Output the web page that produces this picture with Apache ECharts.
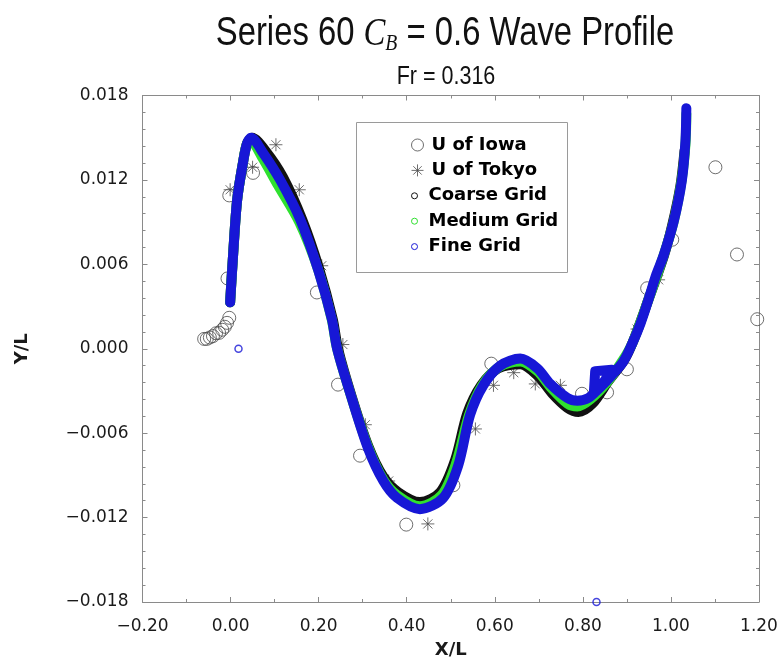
<!DOCTYPE html>
<html><head><meta charset="utf-8">
<script src="https://cdn.jsdelivr.net/npm/echarts@6/dist/echarts.min.js"></script>
<style>html,body{margin:0;padding:0;background:#fff}#c{width:782px;height:664px}</style>
</head><body><div id="c"></div>
<script>
// ---- tick labels ----
const xTickLabels = ['\u22120.20','0.00','0.20','0.40','0.60','0.80','1.00','1.20'];
const yTickLabels = ['\u22120.018','\u22120.012','\u22120.006','0.000','0.006','0.012','0.018'];

// ---- U of Iowa (experiment) ----
const iowaX = [-0.060,-0.054,-0.047,-0.040,-0.033,-0.026,-0.019,-0.013,-0.008,-0.003,
               -0.003,-0.007,0.051,0.196,0.244,0.294,0.399,0.506,0.592,0.798,0.855,0.900,
               0.946,1.003,1.101,1.150,1.196];
const iowaY = [0.0007,0.0007,0.0008,0.0009,0.0011,0.00113,0.00135,0.00156,0.00184,0.0022,
               0.0109,0.0050,0.0125,0.0040,-0.00255,-0.0076,-0.0125,-0.0097,-0.00106,-0.0032,-0.0031,-0.00146,
               0.0043,0.00775,0.0129,0.0067,0.0021];

// ---- U of Tokyo (experiment) ----
const tokyoX = [-0.001,0.050,0.103,0.156,0.207,0.255,0.306,0.359,0.448,0.556,0.597,0.643,0.692,0.749,0.923,0.972];
const tokyoY = [0.0113,0.0129,0.0145,0.0113,0.0059,0.0003,-0.0054,-0.0094,-0.01245,-0.0057,-0.0026,-0.0017,-0.0025,-0.0026,0.0014,0.0049];

// ---- Coarse grid ----
const coarseX = [-0.001,0.006,0.015,0.028,0.0375,0.049,0.081,0.119,0.1625,0.201,0.232,0.244,0.276,0.3125,0.347,0.381,
                 0.430,0.476,0.510,0.5375,0.569,0.608,0.658,0.697,0.731,0.765,0.790,0.822,0.858,0.892,0.9125,0.949,
                 0.983,1.003,1.0216,1.031];
const coarseY = [0.0033,0.0068,0.0106,0.0132,0.0146,0.0150,0.0140,0.0122,0.0092,0.0057,0.0021,0.0000,-0.0035,-0.0069,-0.0091,-0.0102,
                 -0.0109,-0.0102,-0.0079,-0.0046,-0.0026,-0.0014,-0.0011,-0.0019,-0.0032,-0.0042,-0.0045,-0.0039,-0.0023,-0.0009,0.0004,0.0035,
                 0.0065,0.0088,0.0116,0.0141];

// ---- Medium grid ----
const mediumX = [-0.001,0.006,0.015,0.028,0.0375,0.0466,0.0716,0.108,0.156,0.199,0.2295,0.242,0.275,0.3125,0.347,0.378,
                 0.430,0.4795,0.5125,0.5415,0.5715,0.610,0.658,0.697,0.7285,0.765,0.7875,0.817,0.8545,0.891,0.9125,0.949,
                 0.983,1.006,1.024,1.033,1.035];
const mediumY = [0.0033,0.0068,0.0106,0.0132,0.0146,0.0147,0.0136,0.0116,0.0090,0.0056,0.0021,0.0000,-0.0035,-0.0070,-0.0093,-0.0104,
                 -0.0112,-0.0104,-0.0081,-0.0047,-0.0026,-0.0013,-0.0009,-0.0016,-0.0028,-0.0039,-0.0041,-0.0036,-0.0024,-0.0008,0.0004,0.0035,
                 0.0066,0.0090,0.0119,0.0145,0.0167];

// ---- Fine grid ----
const fineX = [-0.001,0.006,0.015,0.028,0.0375,0.0466,0.074,0.1125,0.158,0.199,0.230,0.242,0.275,0.3125,0.347,0.378,
               0.430,0.483,0.517,0.544,0.574,0.6125,0.658,0.697,0.726,0.765,0.7875,0.8125,0.8375,
               0.8625,0.892,0.9125,0.931,0.949,0.967,0.983,1.006,1.025,1.033,1.035];
const fineY = [0.0033,0.0068,0.0106,0.0132,0.0146,0.0150,0.0139,0.0120,0.0092,0.0056,0.0021,0.0000,-0.0035,-0.0071,-0.0094,-0.0106,
               -0.0114,-0.0106,-0.0083,-0.0047,-0.0026,-0.0012,-0.0007,-0.0014,-0.0025,-0.0035,-0.0037,-0.0035,-0.0028,
               -0.0020,-0.0009,0.0004,0.0018,0.0035,0.0053,0.0066,0.0090,0.0120,0.0148,0.0171];
// step ("flag") in the fine-grid profile near X/L = 0.83
const fineFlagX = [0.825,0.828,0.866,0.840];
const fineFlagY = [-0.0031,-0.0016,-0.0015,-0.0027];
const fineExtraX = [0.018,0.831];
const fineExtraY = [0.0000,-0.0180];

const zip = (xs, ys) => xs.map((x, i) => [x, ys[i]]);
const XMIN = -0.2, XINT = 0.2, YMIN = -0.018, YINT = 0.006;
const xFmt = v => xTickLabels[Math.round((v - XMIN) / XINT)] || '';
const yFmt = v => yTickLabels[Math.round((v - YMIN) / YINT)] || '';

const AX = '#8a8a8a';
const BLUE = '#1717d6', GREEN = '#2fe02f', BLACK = '#111111', GRAY = '#4a4a4a';
const ASTER = 'path://M6,0L6,12M0,6L12,6M1.8,1.8L10.2,10.2M1.8,10.2L10.2,1.8';
const tickFont = {fontFamily: 'DejaVu Sans', fontSize: 17, color: '#1a1a1a'};
const nameFont = {fontFamily: 'DejaVu Sans', fontWeight: 'bold', fontSize: 18, color: '#1a1a1a'};
const sans = "'Liberation Sans', Arial, sans-serif";

function xAx(pos, labels) {
  return {
    type: 'value', position: pos, min: XMIN, max: 1.2, interval: XINT,
    axisLine: {show: true, onZero: false, lineStyle: {color: AX, width: 1}},
    axisTick: {show: true, inside: true, length: 5, lineStyle: {color: AX}},
    minorTick: {show: true, splitNumber: 2, length: 3, lineStyle: {color: AX}},
    splitLine: {show: false}, minorSplitLine: {show: false},
    axisLabel: Object.assign({show: labels, margin: 16, formatter: xFmt}, tickFont),
    name: labels ? 'X/L' : '', nameLocation: 'middle', nameGap: 39, nameTextStyle: nameFont
  };
}
function yAx(pos, labels) {
  return {
    type: 'value', position: pos, min: YMIN, max: 0.018, interval: YINT,
    axisLine: {show: true, onZero: false, lineStyle: {color: AX, width: 1}},
    axisTick: {show: true, inside: true, length: 5, lineStyle: {color: AX}},
    minorTick: {show: true, splitNumber: 5, length: 3, lineStyle: {color: AX}},
    splitLine: {show: false}, minorSplitLine: {show: false},
    axisLabel: Object.assign({show: labels, margin: 14, formatter: yFmt}, tickFont),
    name: labels ? 'Y/L' : '', nameLocation: 'middle', nameRotate: 90, nameGap: 111, nameTextStyle: nameFont
  };
}
function band(name, xs, ys, color, smooth) {
  return {
    name: name, type: 'line', data: zip(xs, ys), showSymbol: false, symbol: 'none',
    smooth: smooth, animation: false, silent: true,
    lineStyle: {color: color, width: 10, cap: 'round', join: 'round'},
    itemStyle: {color: color}
  };
}
const legendText = {fontFamily: 'DejaVu Sans', fontWeight: 'bold', fontSize: 18, color: '#000', lineHeight: 22};
const hollow = c => ({color: 'rgba(0,0,0,0)', borderColor: c, borderWidth: 1});

const chart = echarts.init(document.getElementById('c'), null, {renderer: 'canvas'});
chart.setOption({
  animation: false,
  backgroundColor: '#fff',
  title: {show: false, text: 'Series 60 CB = 0.6 Wave Profile', subtext: 'Fr = 0.316'},
  grid: {left: 142.5, right: 23, top: 95.5, bottom: 59, containLabel: false},
  xAxis: [xAx('bottom', true), xAx('top', false)],
  yAxis: [yAx('left', true), yAx('right', false)],
  graphic: [
    {type: 'text', x: 445, y: 12, scaleX: 0.82, z: 10,
     style: {text: '{a|Series 60 }{c|C}{b|B}{a| = 0.6 Wave Profile}', align: 'center', verticalAlign: 'top',
       rich: {
         a: {fontFamily: sans, fontSize: 40, fontWeight: 'normal', fill: '#111'},
         c: {fontFamily: 'Liberation Serif', fontStyle: 'italic', fontWeight: 'normal', fontSize: 40, fill: '#111'},
         b: {fontFamily: 'Liberation Serif', fontStyle: 'italic', fontWeight: 'normal', fontSize: 24, fill: '#111', padding: [20, 0, 0, 0]}
       }}},
    {type: 'text', x: 446, y: 65, scaleX: 0.86, z: 10,
     style: {text: 'Fr = 0.316', align: 'center', verticalAlign: 'top',
       fontFamily: sans, fontSize: 25, fontWeight: 'normal', fill: '#111'}},
    {type: 'rect', z: 1, shape: {x: 356.5, y: 122.5, width: 211, height: 150},
     style: {fill: '#fff', stroke: '#9a9a9a', lineWidth: 1}}
  ],
  legend: [
    {orient: 'vertical', left: 411, top: 134, padding: 0, itemGap: 3.4, itemWidth: 18, itemHeight: 12,
     selectedMode: false, textStyle: legendText, z: 5,
     data: [{name: 'U of Iowa', icon: 'circle', itemStyle: hollow(GRAY)},
            {name: 'U of Tokyo', icon: ASTER, itemStyle: hollow(GRAY)}]},
    {orient: 'vertical', left: 411, top: 184.8, padding: 0, itemGap: 3.4, itemWidth: 18, itemHeight: 6,
     selectedMode: false, textStyle: legendText, z: 5,
     data: [{name: 'Coarse Grid', icon: 'circle', itemStyle: hollow(BLACK)},
            {name: 'Medium Grid', icon: 'circle', itemStyle: hollow(GREEN)},
            {name: 'Fine Grid', icon: 'circle', itemStyle: hollow(BLUE)}]}
  ],
  series: [
    {name: 'U of Iowa', type: 'scatter', data: zip(iowaX, iowaY), symbol: 'circle', symbolSize: 13,
     itemStyle: hollow(GRAY), silent: true},
    {name: 'U of Tokyo', type: 'scatter', data: zip(tokyoX, tokyoY), symbol: ASTER, symbolSize: 13,
     itemStyle: hollow(GRAY), silent: true},
    band('Coarse Grid', coarseX, coarseY, BLACK, 0.3),
    band('Medium Grid', mediumX, mediumY, GREEN, 0.3),
    band('Fine Grid', fineX, fineY, BLUE, 0.3),
    band('Fine Grid', fineFlagX, fineFlagY, BLUE, false),
    {name: 'Fine Grid', type: 'scatter', data: zip(fineExtraX, fineExtraY), symbol: 'circle', symbolSize: 7,
     clip: false, itemStyle: {color: 'rgba(0,0,0,0)', borderColor: BLUE, borderWidth: 1.5}, silent: true}
  ]
});
</script></body></html>
